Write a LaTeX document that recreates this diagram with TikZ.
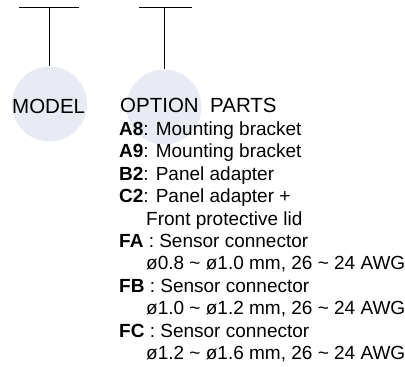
\documentclass[tikz,border=0pt]{standalone}
\usepackage{fontspec}
\setmainfont{Liberation Sans}
\begin{document}
\begin{tikzpicture}[x=1pt,y=-1pt,
  bubble/.style={circle,fill=bubblecol,draw=none,minimum size=75pt,inner sep=0pt},
  head/.style={anchor=base west,inner sep=0pt,font=\fontsize{20.5}{24}\selectfont},
  item/.style={anchor=base west,inner sep=0pt,font=\fontsize{19}{22}\selectfont},
  rule/.style={line width=1pt,black}]
\definecolor{bubblecol}{HTML}{E8EBF4}
\useasboundingbox (0,0) rectangle (405,367);
% circles
\node[bubble] (c1) at (49.5,104) {};
\node[bubble] (c2) at (164,107) {};
% top bars
\coordinate (b1l) at (19,7);
\coordinate (b1r) at (79,7);
\coordinate (b1m) at (49.5,7);
\coordinate (b2l) at (139,7);
\coordinate (b2r) at (192,7);
\coordinate (b2m) at (164,7);
\draw[rule] (b1l) -- (b1r);
\draw[rule] (b1m) -- (c1.north);
\draw[rule] (b2l) -- (b2r);
\draw[rule] (b2m) -- (c2.north);
% headings
\node[head] (model) at (12,113) {MODEL};
\node[head] (option) at (120,112) {OPTION\ \ PARTS};
% list
\def\lx{119}
\def\ix{146}
\node[item] (a8) at (\lx,135.5) {\textbf{A8}: Mounting bracket};
\node[item] (a9) at (\lx,157.9) {\textbf{A9}: Mounting bracket};
\node[item] (b2) at (\lx,180.3) {\textbf{B2}: Panel adapter};
\node[item] (c2t) at (\lx,202.7) {\textbf{C2}: Panel adapter +};
\node[item] (c2b) at (\ix,225.1) {Front protective lid};
\node[item] (fa) at (\lx,247.5) {\textbf{FA} : Sensor connector};
\node[item] (fab) at (\ix,269.9) {ø0.8 \textasciitilde{} ø1.0 mm, 26 \textasciitilde{} 24 AWG};
\node[item] (fb) at (\lx,292.3) {\textbf{FB} : Sensor connector};
\node[item] (fbb) at (\ix,314.7) {ø1.0 \textasciitilde{} ø1.2 mm, 26 \textasciitilde{} 24 AWG};
\node[item] (fc) at (\lx,337.1) {\textbf{FC} : Sensor connector};
\node[item] (fcb) at (\ix,359.5) {ø1.2 \textasciitilde{} ø1.6 mm, 26 \textasciitilde{} 24 AWG};
\end{tikzpicture}
\end{document}
